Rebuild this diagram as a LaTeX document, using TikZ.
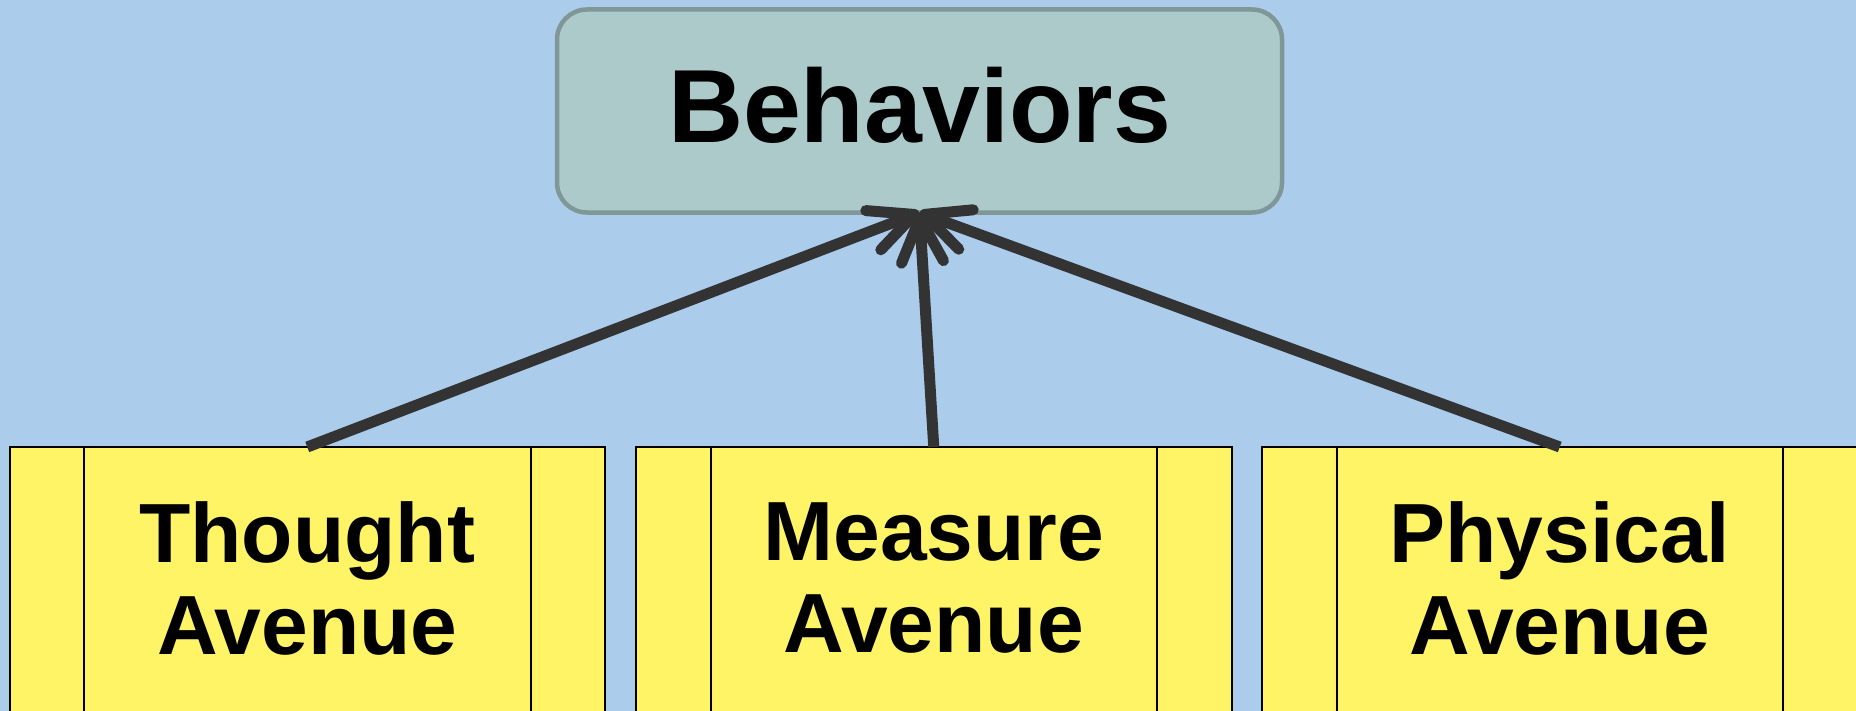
\documentclass[tikz,border=0pt]{standalone}
\usepackage{fontspec}
\setmainfont{Liberation Sans}
\usetikzlibrary{arrows.meta,calc}
\definecolor{skyback}{RGB}{171,205,235}
\definecolor{tealfill}{RGB}{172,202,202}
\definecolor{tealline}{RGB}{127,151,151}
\definecolor{avefill}{RGB}{255,243,102}
\definecolor{connline}{RGB}{51,51,51}
\tikzset{
  topbox/.style={draw=tealline, fill=tealfill, line width=4.5bp, rounded corners=30bp,
    minimum width=725bp, minimum height=203bp, outer sep=0pt, inner sep=0pt, anchor=north west},
  toptext/.style={font=\bfseries\fontsize{104bp}{110bp}\selectfont, anchor=base, inner sep=0pt},
  avebox/.style={draw=black, fill=avefill, line width=2bp, minimum width=595.5bp,
    minimum height=320bp, outer sep=0pt, inner sep=0pt, anchor=north west},
  avetext/.style={font=\bfseries\fontsize{84bp}{92bp}\selectfont, align=center, inner sep=0pt},
  sideline/.style={draw=black, line width=2bp},
  conn/.style={draw=connline, line width=11bp,
    -{Straight Barb[length=44bp,width=42bp,round]}},
}
\begin{document}
\begin{tikzpicture}[x=1bp,y=-1bp]
  \fill[skyback] (0,0) rectangle (1856,711);
  \useasboundingbox (0,0) rectangle (1856,711);
  \clip (0,0) rectangle (1856,711);

  % target box
  \node[topbox] (beh) at (557,9.5) {};
  \node[toptext] (behtxt) at ($(beh.north)+(0,133.5)$) {Behaviors};

  % the three avenues (predefined-process boxes)
  \foreach \nm/\x/\txt in {thought/9.5/{Thought\\Avenue},
                           measure/636/{Measure\\Avenue},
                           physical/1262/{Physical\\Avenue}} {
    \node[avebox] (\nm) at (\x,447) {};
    \draw[sideline] ($(\nm.north west)+(74.5,0)$) -- ($(\nm.south west)+(74.5,0)$);
    \draw[sideline] ($(\nm.north east)+(-74.5,0)$) -- ($(\nm.south east)+(-74.5,0)$);
    \node[avetext] (\nm txt) at ($(\nm.north)+(0,131)$) {\txt};
  }

  % connectors
  \draw[conn] (thought.north) -- (beh.south);
  \draw[conn] (measure.north) -- (beh.south);
  \draw[conn] (physical.north) -- (beh.south);
\end{tikzpicture}
\end{document}
